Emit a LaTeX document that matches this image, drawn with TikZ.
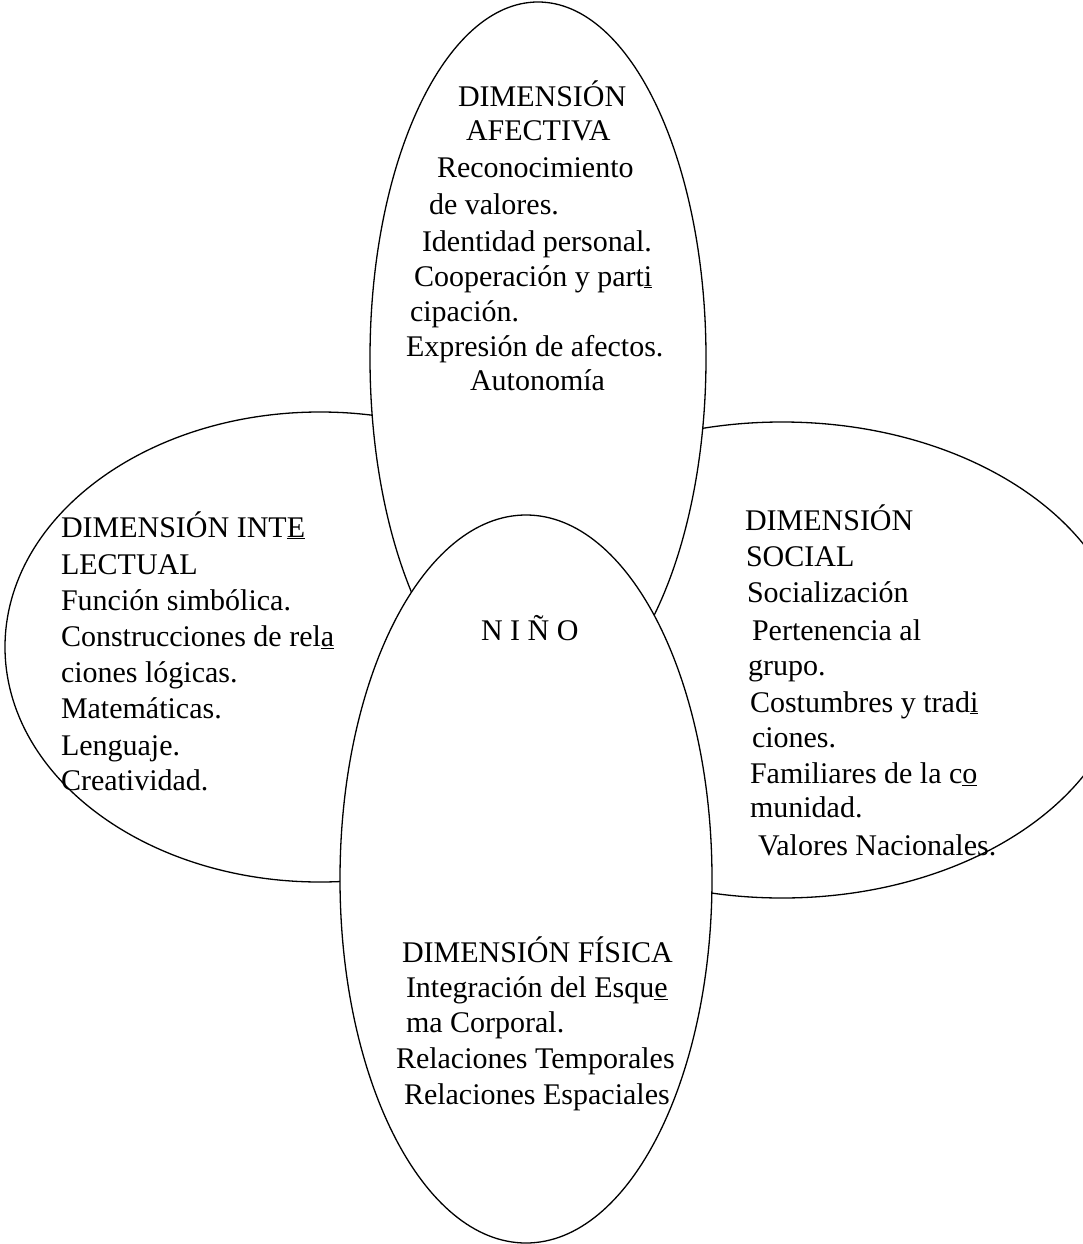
\documentclass[tikz,border=0pt]{standalone}
\usepackage{fontspec}
\setmainfont{Liberation Serif}
\usetikzlibrary{shapes.geometric}
\begin{document}
\begin{tikzpicture}[x=1pt,y=-1pt,
  blob/.style={ellipse, draw=black, line width=1.3pt, fill=white, inner sep=0pt, outer sep=0pt},
  txt/.style={anchor=base west, inner sep=0pt, outer sep=0pt, font=\fontsize{30}{36}\selectfont}]
\useasboundingbox (0,0) rectangle (1083,1244);
\clip (0,0) rectangle (1083,1244);
% ellipses, back to front
\node[blob, minimum width=630pt, minimum height=470pt] (intel) at (320,647) {};
\node[blob, minimum width=690pt, minimum height=476pt] (social) at (782,660) {};
\node[blob, minimum width=336pt, minimum height=712pt] (afect) at (538,358) {};
\node[blob, minimum width=372pt, minimum height=728pt] (fisica) at (526,879) {};
% top: afectiva
\node[txt] (a1) at (458,107) {DIMENSIÓN};
\node[txt] (a2) at (466,140) {AFECTIVA};
\node[txt] (a3) at (437,177) {Reconocimiento};
\node[txt] (a4) at (429,214) {de valores.};
\node[txt] (a5) at (422,251) {Identidad personal.};
\node[txt] (a6) at (414,286) {Cooperación y part\underline{i}};
\node[txt] (a7) at (410,321) {cipación.};
\node[txt] (a8) at (406,356) {Expresión de afectos.};
\node[txt] (a9) at (470,390) {Autonomía};
% left: intelectual
\node[txt] (i1) at (61,537) {DIMENSIÓN INT\underline{E}};
\node[txt] (i2) at (61,574) {LECTUAL};
\node[txt] (i3) at (61,610) {Función simbólica.};
\node[txt] (i4) at (61,646) {Construcciones de rel\underline{a}};
\node[txt] (i5) at (61,682) {ciones lógicas.};
\node[txt] (i6) at (61,718) {Matemáticas.};
\node[txt] (i7) at (61,755) {Lenguaje.};
\node[txt] (i8) at (61,790) {Creatividad.};
% right: social
\node[txt] (s1) at (745,530) {DIMENSIÓN};
\node[txt] (s2) at (746,566) {SOCIAL};
\node[txt] (s3) at (747,602) {Socialización};
\node[txt] (s4) at (752,640) {Pertenencia al};
\node[txt] (s5) at (748,675) {grupo.};
\node[txt] (s6) at (750,712) {Costumbres y trad\underline{i}};
\node[txt] (s7) at (752,747) {ciones.};
\node[txt] (s8) at (750,783) {Familiares de la c\underline{o}};
\node[txt] (s9) at (750,817) {munidad.};
\node[txt] (s10) at (758,855) {Valores Nacionales.};
% centre
\node[txt] (nino) at (481,640) {N I Ñ O};
% bottom: fisica
\node[txt] (f1) at (402,962) {DIMENSIÓN FÍSICA};
\node[txt] (f2) at (406,997) {Integración del Esqu\underline{e}};
\node[txt] (f3) at (406,1032) {ma Corporal.};
\node[txt] (f4) at (396,1068) {Relaciones Temporales};
\node[txt] (f5) at (404,1104) {Relaciones Espaciales};
\end{tikzpicture}
\end{document}
